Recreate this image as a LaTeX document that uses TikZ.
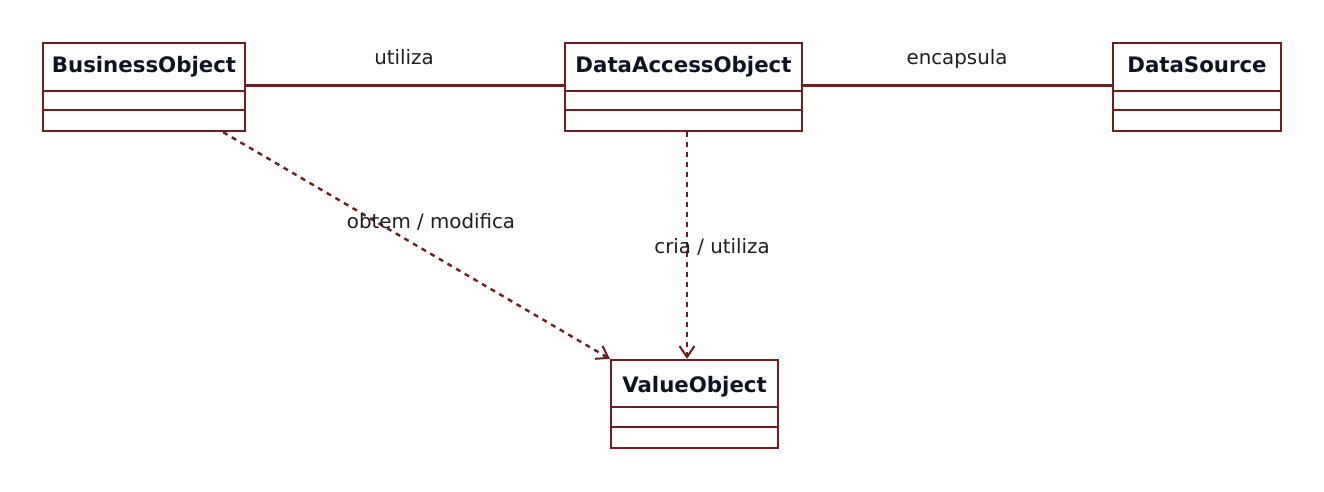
\documentclass[tikz,border=0pt]{standalone}
\usepackage{fontspec}
\setmainfont{DejaVu Sans}
\usetikzlibrary{arrows.meta,calc}
\definecolor{umlline}{HTML}{6E1E1E}
\definecolor{umltext}{HTML}{0E1322}
\definecolor{lbltext}{HTML}{1E1E1E}
\tikzset{
  classbox/.style={draw=umlline, line width=2.4pt, rectangle, inner sep=0pt},
  classname/.style={text=umltext, font=\fontsize{21.3}{24}\selectfont\bfseries, inner sep=0pt, anchor=base},
  assoclabel/.style={text=lbltext, font=\fontsize{19.8}{22}\selectfont, inner sep=0pt, anchor=base},
  divider/.style={draw=umlline, line width=2.4pt},
  assoc/.style={draw=umlline, line width=2.4pt},
  depend/.style={draw=umlline, line width=2.4pt, dash pattern=on 5pt off 5pt,
    -{Straight Barb[length=11pt,width=15pt,line width=2pt]}},
}
\begin{document}
\begin{tikzpicture}[x=1pt,y=-1pt]
\useasboundingbox (0,0) rectangle (1324,492);
% classes
\node[classbox, minimum width=202pt, minimum height=88pt] (bo) at (144,87) {};
\node[classname] (bot) at (144,73) {BusinessObject};
\node[classbox, minimum width=237pt, minimum height=88pt] (dao) at (683.5,87) {};
\node[classname] (daot) at (683.5,73) {DataAccessObject};
\node[classbox, minimum width=168pt, minimum height=88pt] (ds) at (1197,87) {};
\node[classname] (dst) at (1197,73) {DataSource};
\node[classbox, minimum width=167pt, minimum height=88pt] (vo) at (694.5,404) {};
\node[classname] (vot) at (694.5,392) {ValueObject};
% dividers
\foreach \n in {bo,dao,ds}{
  \draw[divider] (\n.west |- 0,91) -- (\n.east |- 0,91);
  \draw[divider] (\n.west |- 0,110) -- (\n.east |- 0,110);
}
\draw[divider] (vo.west |- 0,407) -- (vo.east |- 0,407);
\draw[divider] (vo.west |- 0,427) -- (vo.east |- 0,427);
% associations
\draw[assoc] ([yshift=1.5pt]bo.east) -- ([yshift=1.5pt]dao.west);
\draw[assoc] ([yshift=1.5pt]dao.east) -- ([yshift=1.5pt]ds.west);
\node[assoclabel] (l1) at (404,65) {utiliza};
\node[assoclabel] (l2) at (957,65) {encapsula};
% dependencies
\coordinate (s1) at ([xshift=-23pt]bo.south east);
\draw[depend] (s1) -- (vo.north west);
\coordinate (s2) at ([xshift=3.5pt]dao.south);
\draw[depend] (s2) -- (s2 |- vo.north);
\node[assoclabel] (l3) at (431,228) {obtem / modifica};
\node[assoclabel] (l4) at (712,253) {cria / utiliza};
\end{tikzpicture}
\end{document}
